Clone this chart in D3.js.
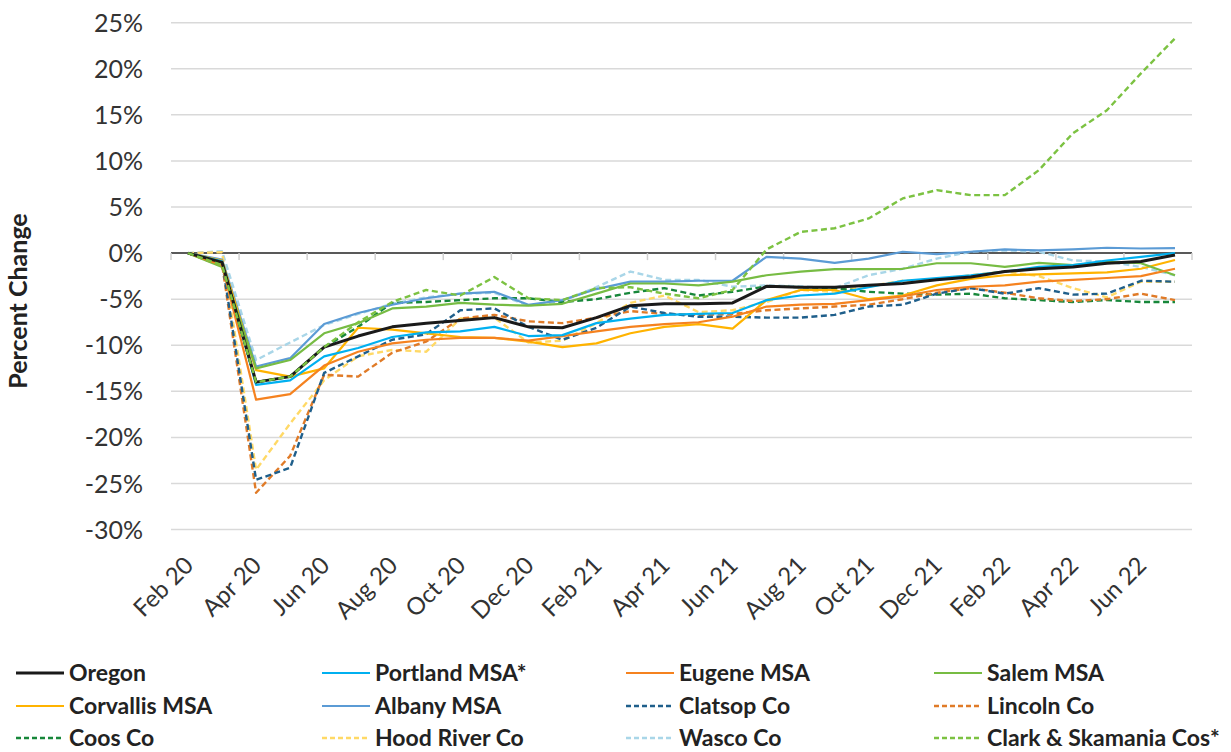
<!DOCTYPE html>
<html><head><meta charset="utf-8">
<script src="https://cdn.jsdelivr.net/npm/d3@7"></script>
<style>body{margin:0;background:#fff}svg{display:block}</style>
</head><body><svg id="c" width="1231" height="752"></svg>
<script>
const months = ["Feb 20","Mar 20","Apr 20","May 20","Jun 20","Jul 20","Aug 20","Sep 20","Oct 20","Nov 20","Dec 20","Jan 21","Feb 21","Mar 21","Apr 21","May 21","Jun 21","Jul 21","Aug 21","Sep 21","Oct 21","Nov 21","Dec 21","Jan 22","Feb 22","Mar 22","Apr 22","May 22","Jun 22","Jul 22"];
const yTicks = [-30,-25,-20,-15,-10,-5,0,5,10,15,20,25];

const oregon    = [0,-1.0,-14.0,-13.4,-10.2,-9.0,-8.0,-7.6,-7.3,-7.0,-8.0,-8.1,-7.0,-5.7,-5.5,-5.5,-5.4,-3.6,-3.7,-3.7,-3.5,-3.3,-2.9,-2.6,-2.0,-1.7,-1.5,-1.1,-0.9,-0.2];
const portland  = [0,-0.9,-14.3,-13.8,-11.2,-10.3,-9.1,-8.6,-8.5,-8.0,-9.0,-8.9,-7.6,-7.1,-6.7,-6.6,-6.5,-5.1,-4.6,-4.4,-3.7,-3.0,-2.7,-2.4,-2.0,-1.5,-1.3,-0.8,-0.4,0.0];
const eugene    = [0,-1.3,-15.9,-15.3,-12.2,-10.7,-9.8,-9.4,-9.2,-9.2,-9.5,-9.0,-8.5,-8.0,-7.7,-7.5,-6.9,-5.8,-5.6,-5.5,-5.1,-4.7,-4.0,-3.65,-3.5,-3.1,-2.9,-2.7,-2.5,-1.7];
const salem     = [0,-1.5,-12.5,-11.6,-8.7,-7.6,-6.0,-5.8,-5.4,-5.6,-5.7,-5.5,-4.4,-3.3,-3.3,-3.5,-3.1,-2.4,-2.0,-1.74,-1.74,-1.7,-1.1,-1.1,-1.5,-1.05,-1.3,-0.94,-1.1,-2.4];
const corvallis = [0,-0.8,-12.7,-13.4,-12.5,-8.1,-8.3,-8.7,-9.1,-9.2,-9.6,-10.2,-9.8,-8.7,-8.0,-7.7,-8.2,-5.1,-4.0,-4.0,-5.0,-4.6,-3.5,-2.8,-2.4,-2.3,-2.2,-2.1,-1.7,-0.75];
const albany    = [0,-0.7,-12.3,-11.4,-7.7,-6.5,-5.6,-4.9,-4.4,-4.2,-5.6,-5.1,-3.9,-3.1,-3.1,-3.0,-3.0,-0.4,-0.6,-1.05,-0.6,0.15,-0.1,0.15,0.4,0.3,0.4,0.58,0.5,0.55];
const clatsop   = [0,-0.9,-24.6,-23.3,-13.0,-11.2,-9.4,-8.8,-6.2,-6.0,-8.0,-9.4,-8.1,-5.8,-6.5,-6.9,-6.9,-7.0,-7.0,-6.7,-5.8,-5.6,-4.4,-3.8,-4.4,-3.8,-4.5,-4.4,-3.0,-3.1];
const lincoln   = [0,-1.2,-26.0,-22.0,-13.2,-13.4,-10.8,-9.6,-7.1,-6.7,-7.4,-7.6,-7.0,-6.3,-6.6,-6.7,-6.6,-6.2,-6.0,-5.8,-5.6,-5.0,-4.3,-3.8,-4.3,-4.9,-5.2,-5.0,-4.4,-5.1];
const coos      = [0,-1.4,-14.0,-13.4,-10.2,-8.0,-5.4,-5.3,-5.1,-4.9,-4.9,-5.3,-5.0,-4.3,-3.8,-4.6,-4.2,-3.6,-3.7,-3.8,-4.2,-4.4,-4.5,-4.4,-4.9,-5.1,-5.3,-5.1,-5.3,-5.3];
const hoodRiver = [0,0.1,-23.5,-18.5,-13.8,-11.2,-10.5,-10.7,-7.1,-7.0,-9.7,-9.5,-7.6,-5.4,-4.6,-6.4,-6.2,-5.3,-4.0,-4.2,-3.6,-3.0,-2.9,-2.4,-2.0,-2.5,-3.8,-4.8,-3.1,-3.1];
const wasco     = [0,0.2,-11.6,-9.7,-7.8,-6.6,-5.5,-4.8,-4.4,-4.3,-5.7,-5.2,-3.7,-2.0,-2.9,-2.9,-3.65,-3.5,-3.6,-3.8,-2.4,-1.7,-0.6,0.15,0.3,0.15,-0.8,-0.9,-1.5,-2.4];
const clark     = [0,-1.3,-14.0,-13.4,-10.2,-7.5,-5.3,-4.0,-4.6,-2.6,-4.9,-5.1,-3.8,-3.7,-4.4,-4.9,-4.0,0.4,2.3,2.7,3.76,5.93,6.83,6.29,6.29,9.0,13.0,15.5,19.5,23.3];

const seriesNames = ["Oregon","Portland MSA*","Eugene MSA","Salem MSA","Corvallis MSA","Albany MSA","Clatsop Co","Lincoln Co","Coos Co","Hood River Co","Wasco Co","Clark & Skamania Cos*"];
const seriesValues = [oregon,portland,eugene,salem,corvallis,albany,clatsop,lincoln,coos,hoodRiver,wasco,clark];

const styles = [
  {c:"#1a1a1a",w:3,d:null},
  {c:"#00b0f0",w:2.2,d:null},
  {c:"#f5821f",w:2.2,d:null},
  {c:"#77bc43",w:2.2,d:null},
  {c:"#ffb300",w:2.2,d:null},
  {c:"#5b9bd5",w:2.2,d:null},
  {c:"#1f5f8b",w:2.4,d:"6,3.5"},
  {c:"#e07b28",w:2.4,d:"6,3.5"},
  {c:"#17873a",w:2.4,d:"6,3.5"},
  {c:"#ffd966",w:2.4,d:"6,3.5"},
  {c:"#a9d6e8",w:2.4,d:"6,3.5"},
  {c:"#7cc242",w:2.4,d:"6,3.5"}
];

const svg = d3.select("#c");
const FONT = "Lato, 'Open Sans', sans-serif";
const left = 171, right = 1192;
const x = d3.scalePoint().domain(months).range([left,right]).padding(0.5);
const step = x.step();
const y = d3.scaleLinear().domain([-30,25]).range([529.6,22.7]);

// gridlines
svg.append("g").selectAll("line").data(yTicks).join("line")
  .attr("x1",left).attr("x2",right)
  .attr("y1",d=>y(d)).attr("y2",d=>y(d))
  .attr("stroke","#d9d9d9").attr("stroke-width",1.5);

// y labels
svg.append("g").selectAll("text").data(yTicks).join("text")
  .attr("x",143).attr("y",d=>y(d)).attr("dy","0.36em")
  .attr("text-anchor","end").attr("font-family",FONT).attr("font-size",25)
  .attr("fill","#333").text(d=>d+"%");

// y title
svg.append("text").attr("transform","translate(27,301) rotate(-90)")
  .attr("text-anchor","middle").attr("font-family",FONT).attr("font-weight","bold")
  .attr("font-size",25).attr("fill","#222").text("Percent Change");

// zero axis line + ticks
svg.append("line").attr("x1",left).attr("x2",right).attr("y1",y(0)).attr("y2",y(0))
  .attr("stroke","#595959").attr("stroke-width",2);
const tickMonths = months.filter((m,i)=>i%2===0);
svg.append("g").selectAll("line").data(tickMonths.map(m=>x(m)-step/2).concat([right])).join("line")
  .attr("x1",d=>d).attr("x2",d=>d).attr("y1",y(0)).attr("y2",y(0)+7)
  .attr("stroke","#d0d0d0").attr("stroke-width",1.5);

// x labels
svg.append("g").selectAll("text").data(tickMonths).join("text")
  .attr("transform",d=>`translate(${x(d)-5},${555}) rotate(-45)`)
  .attr("text-anchor","end").attr("dy","0.7em")
  .attr("font-family",FONT).attr("font-size",24).attr("fill","#333").text(d=>d);

// lines
const line = d3.line().x((d,i)=>x(months[i])).y(d=>y(d));
const order = [10,9,8,7,6,5,4,3,2,1,0,11];
svg.append("g").selectAll("path").data(order).join("path")
  .attr("d",k=>line(seriesValues[k]))
  .attr("fill","none")
  .attr("stroke",k=>styles[k].c)
  .attr("stroke-width",k=>styles[k].w)
  .attr("stroke-dasharray",k=>styles[k].d)
  .attr("stroke-linejoin","round");

// legend
const colX = [16,322,626,934], rowY = [673,706,738];
const lg = svg.append("g").selectAll("g").data(seriesNames).join("g")
  .attr("transform",(d,i)=>`translate(${colX[i%4]},${rowY[Math.floor(i/4)]})`);
lg.append("line").attr("x1",0).attr("x2",48).attr("y1",0).attr("y2",0)
  .attr("stroke",(d,i)=>styles[i].c).attr("stroke-width",(d,i)=>styles[i].w)
  .attr("stroke-dasharray",(d,i)=>styles[i].d ? "5,3" : null);
lg.append("text").attr("x",53).attr("dy","0.36em")
  .attr("font-family",FONT).attr("font-weight","bold").attr("font-size",23)
  .attr("fill","#222").text(d=>d);
</script></body></html>
